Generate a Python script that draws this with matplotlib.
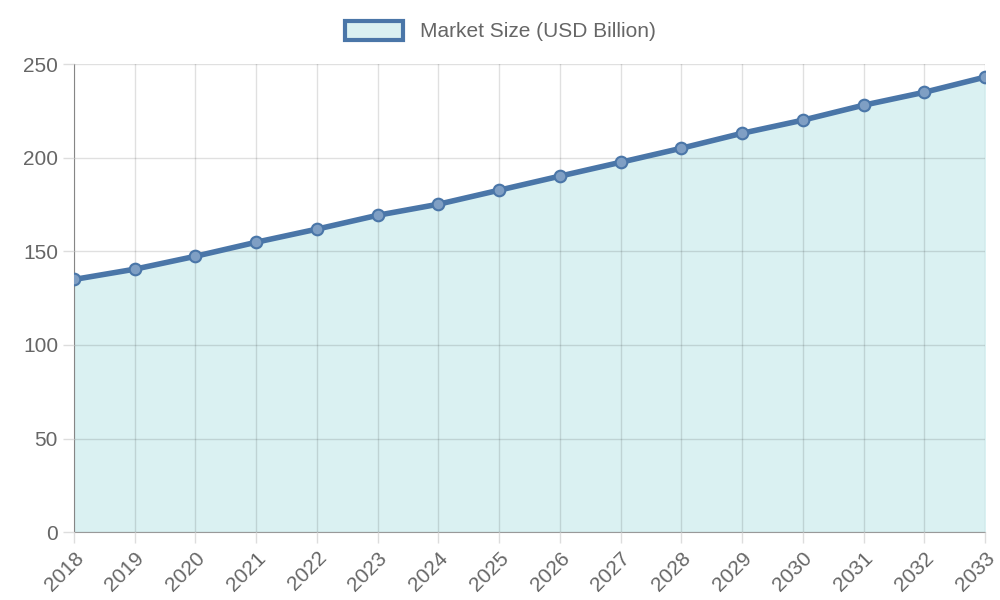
import matplotlib
matplotlib.use("Agg")
import matplotlib.pyplot as plt
from matplotlib.patches import Patch

years = [str(y) for y in range(2018, 2034)]
market_size = [135, 140.5, 147.4, 154.9, 161.9, 169.3, 175.2, 182.7, 190.2, 197.6,
               205.1, 213.1, 220.1, 228.1, 235.0, 243.1]

plt.rcParams['font.family'] = ['Liberation Sans', 'DejaVu Sans']
fig = plt.figure(figsize=(10, 6), dpi=100)
ax = fig.add_axes([0.074, 0.113, 0.911, 0.78])
x = list(range(len(years)))
line_c = '#4a76a8'
fill_c = '#daf1f2'
ax.fill_between(x, market_size, 0, color=fill_c, zorder=1)
ax.plot(x, market_size, color=line_c, lw=4, zorder=3)
ax.scatter(x, market_size, s=70, facecolor='#7f9fc4', edgecolor=line_c, lw=1.5, zorder=4)
ax.set_xlim(0, len(years) - 1)
ax.set_ylim(0, 250)
ax.set_yticks(range(0, 251, 50))
ax.set_xticks(x)
ax.set_xticklabels(years, rotation=45, ha='right', rotation_mode='anchor')
ax.grid(True, color='#000000', alpha=0.12, lw=1)
ax.set_axisbelow(False)
for s in ['top', 'right']:
    ax.spines[s].set_visible(False)
for s in ['left', 'bottom']:
    ax.spines[s].set_color('#999999')
ax.tick_params(colors='#666666', labelsize=15, length=8, width=1)
ax.tick_params(axis='both', color='#dddddd')
handle = Patch(facecolor=fill_c, edgecolor=line_c, lw=3)
fig.legend([handle], ['Market Size (USD Billion)'], loc='center', bbox_to_anchor=(0.5, 0.948),
           frameon=False, fontsize=15, labelcolor='#666666', handlelength=2.8, handleheight=1.0)
fig.savefig('out.png', dpi=100)
